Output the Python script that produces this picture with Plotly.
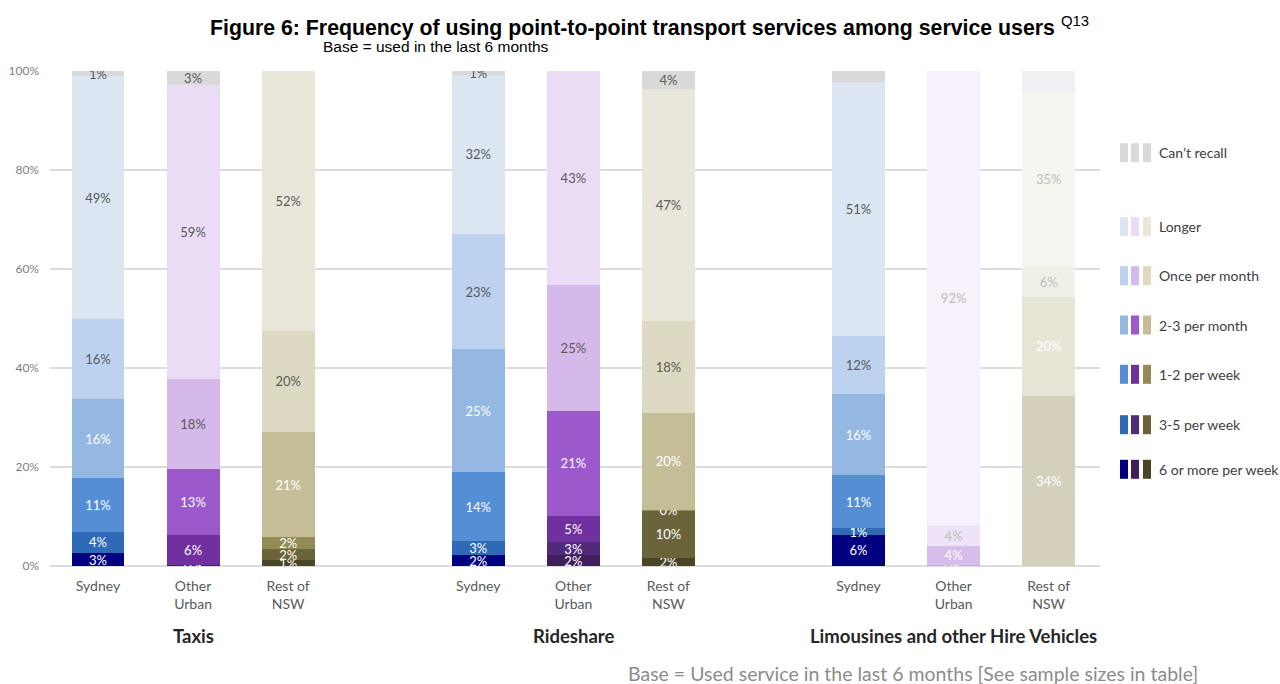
import plotly.graph_objects as go

# ---- data -------------------------------------------------------------
services = ["Taxis", "Rideshare", "Limousines and other Hire Vehicles"]
regions = ["Sydney", "Other<br>Urban", "Rest of<br>NSW"]
frequencies = ["6 or more per week", "3-5 per week", "1-2 per week",
               "2-3 per month", "Once per month", "Longer", "Can’t recall"]
y_ticks = [0, 20, 40, 60, 80, 100]
y_tick_labels = ["0%", "20%", "40%", "60%", "80%", "100%"]

# share of users (%), one value per bar:
# Taxis (Syd, OU, RoNSW), Rideshare (Syd, OU, RoNSW), Limousines (Syd, OU, RoNSW)
six_plus_per_week = [2.6, 0.3, 1.2, 2.2, 2.2, 1.6, 6.3, 0.0, 0.0]
three_five_per_week = [4.3, 0.0, 2.2, 2.8, 2.6, 9.6, 1.3, 0.0, 0.0]
one_two_per_week = [10.9, 6.0, 2.4, 13.9, 5.3, 0.2, 10.8, 0.2, 34.3]
two_three_per_month = [15.9, 13.2, 21.3, 24.9, 21.3, 19.6, 16.3, 3.9, 20.1]
once_per_month = [16.2, 18.2, 20.4, 23.3, 25.4, 18.4, 11.8, 4.1, 6.1]
longer = [49.0, 59.4, 52.5, 32.1, 43.2, 47.0, 51.3, 91.8, 35.3]
cant_recall = [1.1, 2.9, 0.0, 0.8, 0.0, 3.6, 2.2, 0.0, 4.2]

series = [six_plus_per_week, three_five_per_week, one_two_per_week,
          two_three_per_month, once_per_month, longer, cant_recall]

# bars shown faded (small bases) and segments printed without a value
faded_bars = [7, 8]
unlabelled = [(6, 6), (6, 8)]  # (series index, bar index)

footer = "Base = Used service in the last 6 months [See sample sizes in table]"

# ---- styling ----------------------------------------------------------
palettes = {
    "Sydney": ["#000080", "#2e6ab5", "#558ed5", "#95b8e3", "#bcd2ee", "#dce6f2", "#d9d9d9"],
    "Other<br>Urban": ["#3f1f5c", "#512a7a", "#7030a0", "#9b59cc", "#d5b9ea", "#eadcf4", "#d9d9d9"],
    "Rest of<br>NSW": ["#4a4529", "#6b6339", "#948a54", "#c4bd97", "#ddd9c3", "#e9e6da", "#d9d9d9"],
}
label_colors = ["#ffffff"] * 4 + ["#595959"] * 3
FADE = 0.4


def fade(hex_color, alpha=FADE):
    h = hex_color.lstrip("#")
    rgb = [int(h[i:i + 2], 16) for i in (0, 2, 4)]
    mixed = [round(alpha * c + (1 - alpha) * 255) for c in rgb]
    return "#{:02x}{:02x}{:02x}".format(*mixed)


FONT = "Lato"
L_PX, R_PX, T_PX, B_PX = 50, 1100, 71, 566


def px_x(px):
    return (px - L_PX) / (R_PX - L_PX)


def px_y(py):
    return (B_PX - py) / (B_PX - T_PX)


# bar slots: three per service, one empty slot between services
slots = []
bar_regions = []
for g, _ in enumerate(services):
    for r, reg in enumerate(regions):
        slots.append(g * 4 + r)
        bar_regions.append(reg)

fig = go.Figure()
for s, (name, vals) in enumerate(zip(frequencies, series)):
    colors, tcolors, texts = [], [], []
    for b, v in enumerate(vals):
        base = palettes[bar_regions[b]][s]
        tcol = label_colors[s]
        if b in faded_bars:
            base = fade(base)
            tcol = fade(tcol)
        colors.append(base)
        tcolors.append(tcol)
        show = v > 0 and (s, b) not in unlabelled
        texts.append(f"{v:.0f}%" if show else "")
    fig.add_trace(go.Bar(
        x=slots, y=vals, name=name, width=0.557,
        marker=dict(color=colors, line=dict(width=0)),
        text=texts, textposition="inside", insidetextanchor="middle",
        textangle=0, textfont=dict(family=FONT, size=13, color=tcolors),
        hoverinfo="skip", showlegend=False,
    ))

fig.update_layout(
    barmode="stack",
    width=1280, height=684,
    margin=dict(l=L_PX, r=1280 - R_PX, t=T_PX, b=684 - B_PX),
    paper_bgcolor="white", plot_bgcolor="white",
    uniformtext=dict(minsize=13, mode="show"),
    font=dict(family=FONT, color="#595959"),
    xaxis=dict(
        range=[-0.505, 10.54], tickmode="array", tickvals=slots,
        ticktext=regions * 3, automargin=False,
        showgrid=False, zeroline=False, showline=False, ticks="",
        tickfont=dict(family=FONT, size=14, color="#595959"),
        ticklabelstandoff=10,
    ),
    yaxis=dict(
        range=[0, 100], tickmode="array", tickvals=y_ticks,
        ticktext=y_tick_labels, automargin=False,
        showgrid=True, gridcolor="#dcdcdc", gridwidth=1.5,
        zeroline=True, zerolinecolor="#dcdcdc", zerolinewidth=1.5,
        showline=False, ticks="",
        tickfont=dict(family=FONT, size=12, color="#808080"),
        ticklabelstandoff=10,
    ),
)

annotations = [
    dict(text="<b>Figure 6: Frequency of using point-to-point transport services among service users</b>"
              " <sup>Q13</sup>",
         x=px_x(208), y=px_y(26), xanchor="left", yanchor="middle",
         font=dict(family="Liberation Sans", size=21.3, color="#000000")),
    dict(text="Base = used in the last 6 months",
         x=px_x(321), y=px_y(47), xanchor="left", yanchor="middle",
         font=dict(family="Liberation Sans", size=15.5, color="#000000")),
    dict(text=footer, x=px_x(626), y=px_y(673), xanchor="left", yanchor="middle",
         font=dict(family=FONT, size=19.5, color="#8c8c8c")),
]
for g, svc in enumerate(services):
    annotations.append(dict(
        text=f"<b>{svc}</b>", x=g * 4 + 1, xref="x", y=px_y(636), yref="paper",
        xanchor="center", yanchor="middle",
        font=dict(family=FONT, size=18.5, color="#262626")))

# legend: one swatch per region palette, rows from top to bottom
legend_rows_px = [152.7, 226.7, 275.7, 325.0, 374.3, 424.7, 469.3]
swatch_cols_px = [(1120, 1128), (1131, 1139), (1143, 1151)]
shapes = []
for row, s in enumerate(reversed(range(len(frequencies)))):
    cy = legend_rows_px[row]
    for (x0, x1), reg in zip(swatch_cols_px, regions):
        shapes.append(dict(type="rect", xref="paper", yref="paper",
                           x0=px_x(x0), x1=px_x(x1),
                           y0=px_y(cy + 9.5), y1=px_y(cy - 9.5),
                           fillcolor=palettes[reg][s], line=dict(width=0)))
    annotations.append(dict(text=frequencies[s], x=px_x(1157), y=px_y(cy),
                            xanchor="left", yanchor="middle",
                            font=dict(family=FONT, size=14, color="#404040")))

for a in annotations:
    a.setdefault("xref", "paper")
    a.setdefault("yref", "paper")
    a["showarrow"] = False

fig.update_layout(annotations=annotations, shapes=shapes)
fig.write_html("out.html")
